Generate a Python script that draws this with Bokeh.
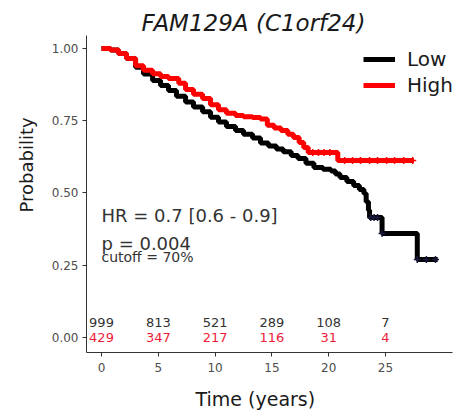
from bokeh.plotting import figure
from bokeh.models import (ColumnDataSource, Label, Legend, LegendItem, FixedTicker, Range1d, Title)
from bokeh.core.properties import value
from bokeh.embed import file_html
from bokeh.resources import INLINE

# ---- data ----
title_text = "FAM129A (C1orf24)"
x_label = "Time (years)"
y_label = "Probability"

low_t = [0, 0.8, 1.5, 2.2, 3.0, 3.7, 4.5, 5.2, 5.9, 6.6, 7.4, 8.1, 8.9, 9.6, 10.3,
         11.0, 11.8, 12.5, 13.3, 14.0, 14.7, 15.4, 16.0, 16.7, 17.3, 18.0, 18.7,
         19.5, 20.2, 20.6, 21.0, 21.6, 22.2, 22.7, 23.1, 23.3, 23.5, 23.6, 24.7,
         27.8, 29.6]
low_s = [1.0, 0.995, 0.983, 0.965, 0.935, 0.912, 0.889, 0.872, 0.855, 0.835, 0.815,
         0.798, 0.781, 0.762, 0.746, 0.730, 0.716, 0.703, 0.690, 0.673, 0.663, 0.652,
         0.643, 0.630, 0.619, 0.603, 0.588, 0.582, 0.576, 0.566, 0.554, 0.540, 0.526,
         0.512, 0.498, 0.470, 0.440, 0.415, 0.360, 0.270, 0.270]

high_t = [0, 0.8, 1.5, 2.2, 3.0, 3.7, 4.5, 5.2, 5.9, 6.8, 7.4, 8.1, 8.9, 9.6, 10.3,
          11.0, 11.8, 12.5, 13.3, 14.0, 14.6, 15.2, 15.8, 16.4, 16.9, 17.4, 17.8,
          18.2, 20.8, 27.5]
high_s = [1.0, 0.995, 0.983, 0.965, 0.940, 0.925, 0.913, 0.903, 0.896, 0.880, 0.858,
          0.842, 0.827, 0.805, 0.788, 0.776, 0.768, 0.764, 0.761, 0.756, 0.734, 0.725,
          0.716, 0.703, 0.692, 0.675, 0.657, 0.640, 0.612, 0.612]

low_cens_t = [23.7, 24.0, 24.3, 24.7, 27.8, 28.6, 29.4]
low_cens_s = [0.415, 0.415, 0.415, 0.360, 0.270, 0.270, 0.270]
high_cens_t = [18.6, 19.1, 19.6, 20.1, 21.4, 22.1, 22.8, 23.6, 24.3, 25.1, 25.8, 26.6, 27.4]
high_cens_s = [0.640, 0.640, 0.640, 0.640, 0.612, 0.612, 0.612, 0.612, 0.612, 0.612,
               0.612, 0.612, 0.612]

risk_times = [0, 5, 10, 15, 20, 25]
risk_low = ["999", "813", "521", "289", "108", "7"]
risk_high = ["429", "347", "217", "116", "31", "4"]
risk_low_y = [0.052] * 6
risk_high_y = [0.0] * 6

x_ticks = [0, 5, 10, 15, 20, 25]
y_ticks = [0.0, 0.25, 0.5, 0.75, 1.0]
y_tick_labels = ["0.00", "0.25", "0.50", "0.75", "1.00"]

hr_text = "HR = 0.7 [0.6 - 0.9]"
p_text = "p = 0.004"
cutoff_text = "cutoff = 70%"

FONT = "DejaVu Sans"
RED = "#ff0000"
RED_TXT = "#ee1c3a"

p = figure(frame_width=366, frame_height=317, output_backend="svg", toolbar_location=None,
           x_range=Range1d(-1.32, 30.9), y_range=Range1d(-0.052, 1.045),
           min_border_left=86, min_border_right=15, min_border_top=35, min_border_bottom=60)
p.outline_line_color = None
p.xgrid.visible = False
p.ygrid.visible = False
p.background_fill_color = "white"
p.border_fill_color = "white"

for ax in (p.xaxis[0], p.yaxis[0]):
    ax.axis_line_color = "#333333"
    ax.axis_line_width = 1
    ax.major_tick_line_color = "#333333"
    ax.major_tick_in = 0
    ax.major_tick_out = 4
    ax.minor_tick_line_color = None
    ax.major_label_text_font = FONT
    ax.major_label_text_font_size = "12px"
    ax.major_label_text_color = "#4d4d4d"
p.xaxis.ticker = FixedTicker(ticks=x_ticks)
p.yaxis.ticker = FixedTicker(ticks=y_ticks)
p.yaxis.major_label_overrides = {t: l for t, l in zip(y_ticks, y_tick_labels)}
p.xaxis.major_label_standoff = 6
p.yaxis.major_label_standoff = 4

low_r = p.step(low_t, low_s, mode="after", line_color="black", line_width=5)
high_r = p.step(high_t, high_s, mode="after", line_color=RED, line_width=5)
p.scatter(low_cens_t, low_cens_s, marker="cross", size=7, line_color="#1a1a40", line_width=1.5)
p.scatter(high_cens_t, high_cens_s, marker="cross", size=7, line_color=RED, line_width=1.5)

src_low = ColumnDataSource(dict(x=risk_times, y=risk_low_y, t=risk_low))
src_high = ColumnDataSource(dict(x=risk_times, y=risk_high_y, t=risk_high))
p.text(x="x", y="y", text="t", source=src_low, text_font=value(FONT), text_font_size="13px",
       text_color="#333333", text_align="center", text_baseline="middle")
p.text(x="x", y="y", text="t", source=src_high, text_font=value(FONT), text_font_size="13px",
       text_color=RED_TXT, text_align="center", text_baseline="middle")

p.add_layout(Label(x=0.0, y=0.422, text=hr_text, text_font=FONT, text_font_size="18px",
                   text_color="#333333", text_align="left", text_baseline="alphabetic"))
p.add_layout(Label(x=0.0, y=0.325, text=p_text, text_font=FONT, text_font_size="18px",
                   text_color="#333333", text_align="left", text_baseline="alphabetic"))
p.add_layout(Label(x=0.0, y=0.280, text=cutoff_text, text_font=FONT, text_font_size="14px",
                   text_color="#333333", text_align="left", text_baseline="alphabetic"))

# title and axis titles as Title annotations
p.add_layout(Title(text=title_text, text_font=FONT, text_font_size="23px",
                   text_font_style="italic", text_color="#1a1a1a", align="left", offset=55,
                   vertical_align="bottom", standoff=0), "above")
p.add_layout(Title(text=x_label, text_font=FONT, text_font_size="19px", text_font_style="normal",
                   text_color="#1a1a1a", align="left", offset=109, vertical_align="middle",
                   standoff=24), "below")
p.add_layout(Title(text=y_label, text_font=FONT, text_font_size="18px", text_font_style="normal",
                   text_color="#1a1a1a", align="left", offset=140, vertical_align="middle",
                   standoff=22), "left")

legend = Legend(items=[LegendItem(label="Low", renderers=[low_r]),
                       LegendItem(label="High", renderers=[high_r])],
                location=(277, 254), padding=0, margin=0, spacing=0,
                glyph_width=32, glyph_height=26, label_height=26, label_standoff=12,
                label_text_font=FONT, label_text_font_size="20px", label_text_color="#1a1a1a",
                border_line_color=None, background_fill_alpha=0)
p.add_layout(legend)

open("out.html", "w").write(file_html(p, INLINE))
